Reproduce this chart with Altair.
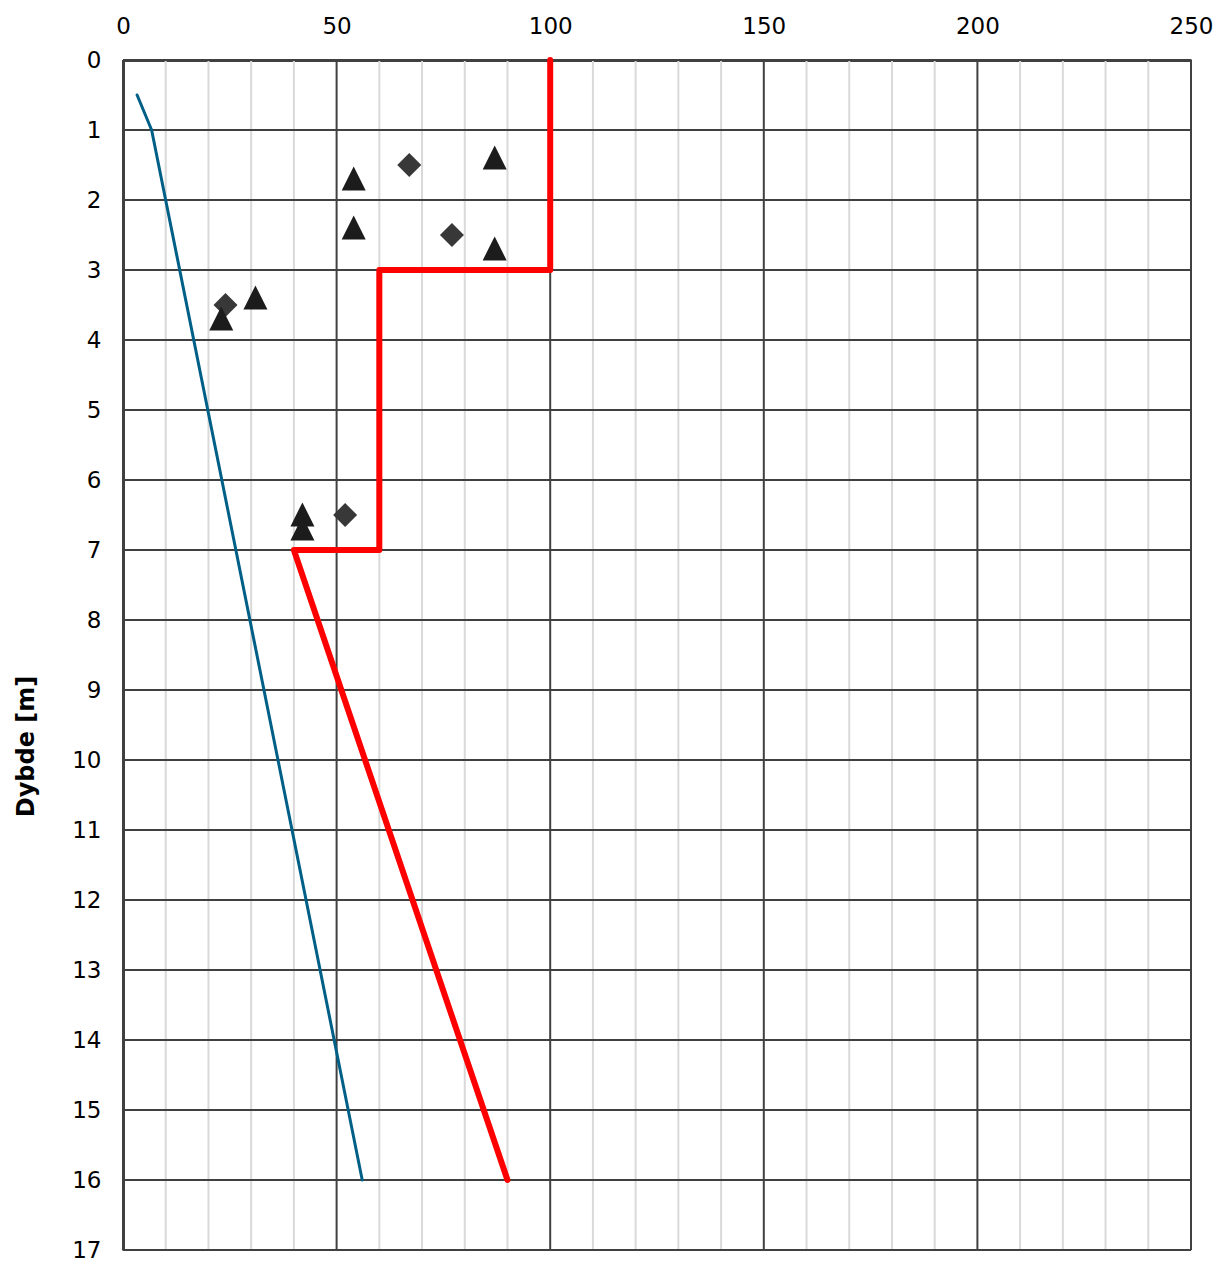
import altair as alt
import pandas as pd

# ---- data ----
blue_x = [3.3, 6.7, 56]
blue_y = [0.5, 1, 16]

red_x = [100, 100, 60, 60, 40, 90]
red_y = [0, 3, 3, 7, 7, 16]

tri_x = [54, 87, 54, 87, 31, 23, 42, 42]
tri_y = [1.7, 1.4, 2.4, 2.7, 3.4, 3.7, 6.5, 6.7]

dia_x = [67, 77, 24, 52]
dia_y = [1.5, 2.5, 3.5, 6.5]

x_ticks = [0, 50, 100, 150, 200, 250]
minor_x = [10, 20, 30, 40, 60, 70, 80, 90, 110, 120, 130, 140, 160, 170, 180, 190,
           210, 220, 230, 240]
y_ticks = [0, 1, 2, 3, 4, 5, 6, 7, 8, 9, 10, 11, 12, 13, 14, 15, 16, 17]

W, H = 1068, 1190
FONT = "DejaVu Sans"
DARK = "#404040"

xscale = alt.Scale(domain=[0, 250], nice=False, zero=False)
yscale = alt.Scale(domain=[0, 17], reverse=True, nice=False, zero=False)

xaxis = alt.Axis(orient="top", values=x_ticks, grid=False, ticks=False, title=None,
                 labelFont=FONT, labelFontSize=23, labelColor="#000000", labelPadding=22,
                 labelFlush=False, labelOverlap=False,
                 domainColor=DARK, domainWidth=3)
yaxis = alt.Axis(values=y_ticks, grid=False, ticks=False, title="Dybde [m]",
                 labelFont=FONT, labelFontSize=23, labelColor="#000000", labelPadding=22,
                 labelFlush=False, labelOverlap=False,
                 domainColor=DARK, domainWidth=3,
                 titleFont=FONT, titleFontSize=24, titleFontWeight="bold", titleColor="#000000",
                 titleAngle=270, titleX=-97, titleY=686, titleAlign="center", titleBaseline="middle")


def X(field="x"):
    return alt.X(f"{field}:Q", scale=xscale, axis=xaxis)


def Y(field="y"):
    return alt.Y(f"{field}:Q", scale=yscale, axis=yaxis)


minor_df = pd.DataFrame({"x": minor_x})
major_df = pd.DataFrame({"x": x_ticks})
hgrid_df = pd.DataFrame({"y": y_ticks})

blue_df = pd.DataFrame({"x": blue_x, "y": blue_y, "o": list(range(len(blue_x)))})
red_df = pd.DataFrame({"x": red_x, "y": red_y, "o": list(range(len(red_x)))})
tri_df = pd.DataFrame({"x": tri_x, "y": tri_y})
dia_df = pd.DataFrame({"x": dia_x, "y": dia_y})

minor = alt.Chart(minor_df).mark_rule(color="#d9d9d9", strokeWidth=2).encode(x=X())
hgrid = alt.Chart(hgrid_df).mark_rule(color=DARK, strokeWidth=2).encode(y=Y())
major = alt.Chart(major_df).mark_rule(color=DARK, strokeWidth=2).encode(x=X())

blue = alt.Chart(blue_df).mark_line(color="#005f87", strokeWidth=3, strokeCap="round",
                                    strokeJoin="round").encode(x=X(), y=Y(), order="o:Q")
red = alt.Chart(red_df).mark_line(color="#ff0000", strokeWidth=6, strokeCap="round",
                                  strokeJoin="round").encode(x=X(), y=Y(), order="o:Q")

tri = alt.Chart(tri_df).mark_point(shape="M-1,0.95L1,0.95L0,-1.05Z", size=576, filled=True,
                                   color="#1c1c1c", opacity=1).encode(x=X(), y=Y())
dia = alt.Chart(dia_df).mark_point(shape="diamond", size=576, filled=True,
                                   color="#383838", opacity=1).encode(x=X(), y=Y())

chart = alt.layer(minor, hgrid, major, blue, red, dia, tri).properties(
    width=W, height=H,
    autosize=alt.AutoSizeParams(type="none"),
    padding={"left": 115, "top": 52, "right": 24, "bottom": 14},
).configure_view(stroke=None).configure(background="#ffffff")

chart.save("out.html", embed_options={"renderer": "svg", "actions": False})
